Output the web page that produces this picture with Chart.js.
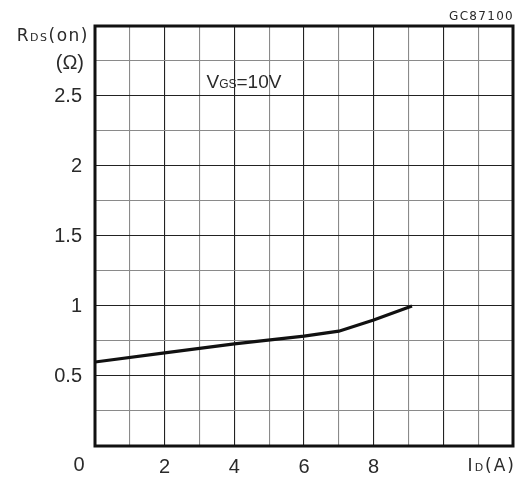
<!DOCTYPE html>
<html>
<head>
<meta charset="utf-8">
<script src="https://cdn.jsdelivr.net/npm/chart.js@4/dist/chart.umd.min.js"></script>
<style>
html,body{margin:0;padding:0;background:#fff;}
#wrap{width:522px;height:477px;position:relative;}
</style>
</head>
<body>
<div id="wrap"><canvas id="c" width="522" height="477"></canvas></div>
<script>
// Data
const idValues  = [0, 2, 4, 6, 7, 8, 9.1];
const rdsValues = [0.6, 0.665, 0.73, 0.785, 0.82, 0.9, 1.0];
const xTickLabels = {2:'2', 4:'4', 6:'6', 8:'8'};
const yTickLabels = {0.5:'0.5', 1:'1', 1.5:'1.5', 2:'2', 2.5:'2.5'};
const figureCode = 'GC87100';

const FONT = '"Liberation Sans", Arial, sans-serif';
const UFONT = '"DejaVu Sans", sans-serif';
const TXT = '#2a2a2a';

function gridColor(ctx, majorEvery){
  const v = ctx.tick ? ctx.tick.value : 0;
  const r = v / majorEvery;
  return Math.abs(r - Math.round(r)) < 1e-6 ? '#222' : '#8a8a8a';
}

function drawSub(ctx, parts, x, y, align, font, spacing){
  // parts: [text, size]
  ctx.letterSpacing = (spacing || 0) + 'px';
  let w = 0;
  parts.forEach(p => { ctx.font = p[1] + 'px ' + font; w += ctx.measureText(p[0]).width; });
  let cx = align === 'right' ? x - w : (align === 'center' ? x - w/2 : x);
  ctx.textBaseline = 'alphabetic';
  ctx.textAlign = 'left';
  parts.forEach(p => {
    ctx.font = p[1] + 'px ' + font;
    ctx.fillText(p[0], cx, y);
    cx += ctx.measureText(p[0]).width;
  });
  ctx.letterSpacing = '0px';
}

const decor = {
  id: 'decor',
  afterDraw(chart){
    const {ctx, chartArea: a, scales} = chart;
    const xs = scales.x, ys = scales.y;
    ctx.save();
    // frame
    ctx.strokeStyle = '#111';
    ctx.lineWidth = 3;
    ctx.strokeRect(a.left, a.top, a.right - a.left, a.bottom - a.top);
    ctx.fillStyle = TXT;
    // origin "0"
    ctx.font = '20px ' + FONT;
    ctx.textAlign = 'center';
    ctx.textBaseline = 'middle';
    ctx.fillText('0', xs.getPixelForValue(0) - 16, a.bottom + 19);
    // y unit labels
    drawSub(ctx, [['R',17],['DS',11],['(on)',17]], a.left - 6, ys.getPixelForValue(3) + 15, 'right', UFONT, 1.5);
    ctx.font = '20px ' + FONT;
    ctx.textAlign = 'right';
    ctx.textBaseline = 'middle';
    ctx.fillText('(\u03A9)', a.left - 11, ys.getPixelForValue(2.75) + 2);
    // x unit label
    drawSub(ctx, [['I',17],['D',11],['(A)',17]], a.right + 3, a.bottom + 25, 'right', UFONT, 2);
    // condition
    drawSub(ctx, [['V',19],['GS',12],['=10V',19]], xs.getPixelForValue(3.2), ys.getPixelForValue(2.6) + 6, 'left', FONT, 0);
    // figure code
    ctx.font = '12px "DejaVu Sans", sans-serif';
    ctx.letterSpacing = '1.3px';
    ctx.textAlign = 'right';
    ctx.textBaseline = 'middle';
    ctx.fillText(figureCode, a.right + 1, a.top - 9);
    ctx.restore();
  }
};

new Chart(document.getElementById('c'), {
  type: 'scatter',
  data: {
    datasets: [{
      data: idValues.map((x, i) => ({x: x, y: rdsValues[i]})),
      showLine: true,
      borderColor: '#111',
      borderWidth: 3.2,
      pointRadius: 0,
      tension: 0,
      fill: false
    }]
  },
  options: {
    responsive: false,
    animation: false,
    events: [],
    layout: {padding: {top: 26, right: 9, left: 0, bottom: 0}},
    plugins: {legend: {display: false}, tooltip: {enabled: false}},
    scales: {
      x: {
        type: 'linear', min: 0, max: 12,
        afterFit(s){ s.height = 31; },
        border: {display: false},
        grid: {color: c => gridColor(c, 2), lineWidth: 1.1, drawTicks: false},
        ticks: {
          stepSize: 1, autoSkip: false, maxRotation: 0, padding: 9,
          color: TXT, font: {family: FONT, size: 20},
          callback: v => xTickLabels[v] || ''
        }
      },
      y: {
        type: 'linear', min: 0, max: 3,
        afterFit(s){ s.width = 95; },
        border: {display: false},
        grid: {color: c => gridColor(c, 0.5), lineWidth: 1.1, drawTicks: false},
        ticks: {
          stepSize: 0.25, autoSkip: false, padding: 13,
          color: TXT, font: {family: FONT, size: 20},
          callback: v => yTickLabels[v] || ''
        }
      }
    }
  },
  plugins: [decor]
});
</script>
</body>
</html>
